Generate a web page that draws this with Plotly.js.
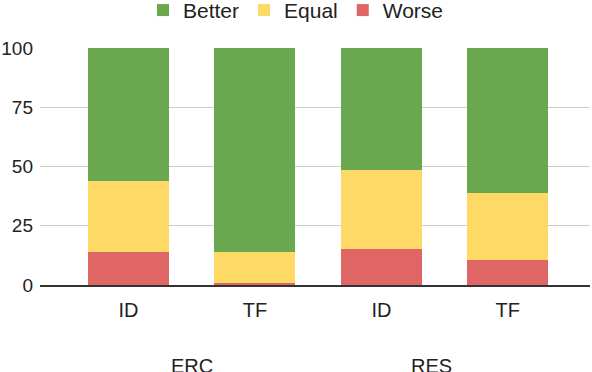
<!DOCTYPE html>
<html>
<head>
<meta charset="utf-8">
<script src="https://cdn.plot.ly/plotly-3.0.1.min.js"></script>
<style>
  html, body { margin: 0; padding: 0; background: #fff; }
  #chart { width: 592px; height: 372px; }
</style>
</head>
<body>
<div id="chart"></div>
<script>
// four bars: ERC (ID, TF) and RES (ID, TF)
var barLabels = ["ID", "TF", "ID", "TF"];
var groups = ["ERC", "RES"];
var groupPos = [0.5, 2.4];

var better = [56, 86, 51.5, 61];
var equal = [30, 13, 33.5, 28.5];
var worse = [14, 1, 15, 10.5];

var xs = barLabels.map(function (d, i) { return i; });

var font = "Liberation Sans, Arial, sans-serif";

var worseTrace = {
  x: xs, y: worse, name: "Worse", type: "bar",
  marker: {color: "#e06666"}, hoverinfo: "y"
};
var equalTrace = {
  x: xs, y: equal, name: "Equal", type: "bar",
  marker: {color: "#ffd966"}, hoverinfo: "y"
};
var betterTrace = {
  x: xs, y: better, name: "Better", type: "bar",
  marker: {color: "#6aa84f"}, hoverinfo: "y"
};

var annotations = groups.map(function (g, i) {
  return {
    text: g, x: groupPos[i], xref: "x", y: 0, yref: "paper",
    yanchor: "top", yshift: -68, showarrow: false,
    font: {family: font, size: 20, color: "#222"}
  };
});

var layout = {
  width: 592, height: 372,
  margin: {l: 40, r: 2, t: 48, b: 87},
  barmode: "stack",
  bargap: 0.36,
  showlegend: true,
  legend: {
    orientation: "h", traceorder: "reversed",
    xref: "container", x: 0.5, xanchor: "center",
    yref: "container", y: 0.972, yanchor: "middle",
    font: {family: font, size: 21, color: "#222"}
  },
  xaxis: {
    range: [-0.7, 3.65],
    tickvals: xs, ticktext: barLabels,
    showgrid: false, zeroline: false,
    showline: true, linecolor: "#333", linewidth: 1.5,
    ticks: "", ticklabelstandoff: 6,
    tickfont: {family: font, size: 20, color: "#222"}
  },
  yaxis: {
    range: [0, 100], tickvals: [0, 25, 50, 75, 100],
    gridcolor: "#cccccc", zeroline: false,
    ticks: "", ticklabelstandoff: 6,
    tickfont: {family: font, size: 19, color: "#222"}
  },
  annotations: annotations,
  plot_bgcolor: "#fff", paper_bgcolor: "#fff"
};

Plotly.newPlot("chart", [worseTrace, equalTrace, betterTrace], layout, {displayModeBar: false});
</script>
</body>
</html>
